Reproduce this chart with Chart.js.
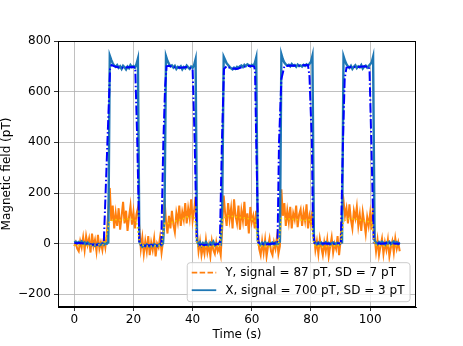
<!DOCTYPE html>
<html>
<head>
<meta charset="utf-8">
<script src="https://cdn.jsdelivr.net/npm/chart.js@4/dist/chart.umd.min.js"></script>
<style>
html,body{margin:0;padding:0;background:#fff;}
#wrap{width:463px;height:346px;}
</style>
</head>
<body>
<div id="wrap"><canvas id="c" width="463" height="346"></canvas></div>
<script>
// ---- data ----
const times = [0,0.5,1,1.5,2,2.5,3,3.5,4,4.5,5,5.5,6,6.5,7,7.5,8,8.5,9,9.5,10,10.5,11,11.5,12,12.5,13,13.5,14,14.5,15,15.5,16,16.5,17,17.5,18,18.5,19,19.5,20,20.5,21,21.5,22,22.5,23,23.5,24,24.5,25,25.5,26,26.5,27,27.5,28,28.5,29,29.5,30,30.5,31,31.5,32,32.5,33,33.5,34,34.5,35,35.5,36,36.5,37,37.5,38,38.5,39,39.5,40,40.5,41,41.5,42,42.5,43,43.5,44,44.5,45,45.5,46,46.5,47,47.5,48,48.5,49,49.5,50,50.5,51,51.5,52,52.5,53,53.5,54,54.5,55,55.5,56,56.5,57,57.5,58,58.5,59,59.5,60,60.5,61,61.5,62,62.5,63,63.5,64,64.5,65,65.5,66,66.5,67,67.5,68,68.5,69,69.5,70,70.5,71,71.5,72,72.5,73,73.5,74,74.5,75,75.5,76,76.5,77,77.5,78,78.5,79,79.5,80,80.5,81,81.5,82,82.5,83,83.5,84,84.5,85,85.5,86,86.5,87,87.5,88,88.5,89,89.5,90,90.5,91,91.5,92,92.5,93,93.5,94,94.5,95,95.5,96,96.5,97,97.5,98,98.5,99,99.5,100,100.5,101,101.5,102,102.5,103,103.5,104,104.5,105,105.5,106,106.5,107,107.5,108,108.5,109,109.5,110];

const xSignal = [
 5,8,2,7,3,9,1,5,-2,4,0,-4,-6,-2,-8,-5,-1,-7,-3,2,-4,3,0,6,
 742,725,712,703,698,705,694,700,690,702,696,688,699,693,705,697,701,695,708,730,
 8,-5,-12,-6,-10,-3,-8,-11,-4,-9,-2,-7,-10,-5,-1,-6,2,
 120,
 740,722,710,700,704,695,702,690,698,694,700,688,697,692,703,696,690,699,694,705,728,
 10,-4,5,-8,2,-5,6,-3,-7,4,-2,8,-6,1,-4,3,-1,150,
 738,725,712,705,698,692,688,695,690,698,694,700,703,697,706,701,708,704,699,706,702,712,735,
 12,2,-5,4,-3,6,-1,3,-6,2,5,-2,4,-4,1,8,
 748,728,715,708,703,706,700,709,702,705,698,707,701,704,699,706,702,708,703,710,718,742,
 10,3,-2,5,0,4,-3,2,6,-1,3,-4,2,5,-2,1,4,-3,2,5,
 740,722,708,700,694,702,690,698,704,693,700,696,705,691,699,703,695,701,708,715,738,
 12,4,-2,6,0,8,3,-4,5,1,7,-2,4,9,2,6,-1,5
];

const ySignal = [
 -10,5,-20,-30,10,-15,25,-25,30,-5,20,-35,40,-10,15,-30,35,-20,5,-25,20,-15,40,130,
 220,90,150,60,120,70,140,55,110,165,80,130,50,105,150,75,125,60,115,140,
 60,-20,25,-40,10,-30,30,-45,5,-25,20,-50,0,-15,25,-35,10,
 175,
 90,40,110,60,130,75,45,120,85,150,70,125,95,160,80,140,100,175,90,130,185,
 40,-30,10,-45,-10,-40,15,-35,-5,-50,10,-25,-40,5,-30,-15,-45,60,
 190,120,70,160,95,140,60,175,110,80,150,55,130,90,165,70,120,40,145,85,110,60,130,
 50,-20,-45,10,-35,15,-50,-10,20,-30,-45,5,-20,25,-40,-10,
 215,110,160,70,130,85,145,60,120,95,150,65,115,135,70,125,90,155,60,110,80,130,
 40,-25,10,-40,20,-15,-45,5,-30,15,-50,-10,25,-35,0,-20,30,-45,10,130,
 170,110,140,80,155,95,60,130,100,145,70,115,50,125,85,40,105,70,120,55,160,
 30,-30,15,-45,-10,20,-40,5,-25,15,-50,-15,10,-35,20,-20,5,-30
];

// smoothed X (blue dash-dot)
const xSmoothT = [0,2,4,6,8,9.5,10.0,11.2,12.1,12.6,14,16,18,20,20.6,21.3,22.0,22.5,24,26,28,29.4,30.1,30.7,31.2,32,34,36,38,40.0,40.7,41.4,42,44,46,48,49.2,49.9,50.6,51.5,53,55,57,59,60.8,61.1,61.5,62.2,63,65,67,68.7,69.2,70.0,71,73,75,77,79,79.5,80.3,80.7,81.2,83,85,87,90.1,90.8,91.4,92,94,96,98,99.6,99.8,100.4,101.2,102,104,106,108,110];
const xSmoothV = [2,3,0,-3,-4,-2,10,400,690,705,698,694,696,697,695,400,5,-5,-8,-6,-7,-2,400,620,700,702,696,694,697,690,400,5,-3,-5,-4,-3,0,400,690,700,692,690,698,702,700,680,400,5,0,-2,0,2,400,650,700,703,702,704,705,660,400,50,2,0,1,-1,2,400,650,695,698,697,700,698,680,400,5,2,0,3,1,0];

// smoothed Y (yellow dotted)
const ySmoothT = [0,3,6,9,10.2,11.2,12,14,16,18,20,21,22,22.5,25,28,29.5,30.5,32,34,36,38,40,40.8,41.5,44,47,49.2,50.2,52,55,58,61,61.5,62.2,65,68,69,70,72,75,78,80,80.7,81.3,84,87,90,91,93,96,99,100.5,101.5,104,107,110];
const ySmoothV = [-5,-8,-6,-4,-3,50,90,95,92,98,95,90,10,-5,-10,-8,-5,80,80,88,95,105,108,100,-5,-12,-10,-8,100,110,105,100,95,60,-8,-12,-10,-5,100,98,95,92,95,20,-8,-12,-10,-5,90,100,95,88,85,-5,-10,-8,-8];

const xTicks = [0,20,40,60,80,100];
const yTicks = [-200,0,200,400,600,800];
const legendLabels = ['Y, signal = 87 pT, SD = 7 pT', 'X, signal = 700 pT, SD = 3 pT'];
const xTitle = 'Time (s)';
const yTitle = 'Magnetic field (pT)';

// ---- chart ----
const FONT = {family: '"DejaVu Sans", sans-serif', size: 12};
const pts = (ts, vs) => ts.map((t, i) => ({x: t, y: vs[i]}));

const frameAndLegend = {
  id: 'frameAndLegend',
  afterDatasetsDraw(chart) {
    const {ctx, chartArea: a} = chart;
    ctx.save();
    ctx.strokeStyle = '#000';
    ctx.lineWidth = 1;
    ctx.strokeRect(Math.round(a.left) + 0.5, Math.round(a.top) + 0.5, Math.round(a.right - a.left) - 1, Math.round(a.bottom - a.top) - 1);
    ctx.restore();
  },
  afterDraw(chart) {
    const {ctx, chartArea: a} = chart;
    ctx.save();
    ctx.font = '12px "DejaVu Sans", sans-serif';
    const tw = Math.max(...legendLabels.map(s => ctx.measureText(s).width));
    const padL = 4.5, handle = 24.5, gap = 9, padR = 5.5;
    const w = padL + handle + gap + tw + padR;
    const h = 39;
    const right = a.right - 6;
    const bottom = a.bottom - 5.3;
    const left = right - w, top = bottom - h;
    const r = 3;
    ctx.beginPath();
    ctx.moveTo(left + r, top);
    ctx.arcTo(right, top, right, bottom, r);
    ctx.arcTo(right, bottom, left, bottom, r);
    ctx.arcTo(left, bottom, left, top, r);
    ctx.arcTo(left, top, right, top, r);
    ctx.closePath();
    ctx.fillStyle = 'rgba(255,255,255,0.8)';
    ctx.fill();
    ctx.strokeStyle = '#cccccc';
    ctx.lineWidth = 1;
    ctx.stroke();
    const rows = [top + 10, top + 27.5];
    const styles = [{c: '#ff7f0e', d: [5.5, 2.4]}, {c: '#1f77b4', d: []}];
    rows.forEach((y, i) => {
      ctx.beginPath();
      ctx.setLineDash(styles[i].d);
      ctx.strokeStyle = styles[i].c;
      ctx.lineWidth = 1.8;
      ctx.moveTo(left + padL, y);
      ctx.lineTo(left + padL + handle, y);
      ctx.stroke();
      ctx.setLineDash([]);
      ctx.fillStyle = '#000';
      ctx.textBaseline = 'middle';
      ctx.textAlign = 'left';
      ctx.fillText(legendLabels[i], left + padL + handle + gap, y + 0.5);
    });
    ctx.restore();
  }
};

new Chart(document.getElementById('c'), {
  type: 'line',
  data: {
    datasets: [
      {label: 'Y smooth', data: pts(ySmoothT, ySmoothV), borderColor: '#f2d000', borderWidth: 1.6, borderDash: [1.5, 2.5], pointRadius: 0, tension: 0, fill: false},
      {label: 'X smooth', data: pts(xSmoothT, xSmoothV), borderColor: '#0000ff', borderWidth: 2, borderDash: [9.6, 2.4, 1.5, 2.4], pointRadius: 0, tension: 0, fill: false},
      {label: 'X', data: pts(times, xSignal), borderColor: '#1f77b4', borderWidth: 2.4, pointRadius: 0, tension: 0, fill: false},
      {label: 'Y', data: pts(times, ySignal), borderColor: '#ff7f0e', borderWidth: 2, pointRadius: 0, tension: 0, fill: false}
    ]
  },
  options: {
    responsive: false,
    animation: false,
    events: [],
    layout: {padding: {left: 0, top: 41, right: 47, bottom: 0}},
    plugins: {legend: {display: false}, tooltip: {enabled: false}},
    scales: {
      x: {
        type: 'linear', min: -5.5, max: 115.5,
        afterBuildTicks: s => { s.ticks = xTicks.map(v => ({value: v})); },
        afterFit: s => { s.height = 39; },
        grid: {color: '#b0b0b0', lineWidth: 0.8, tickColor: '#000', tickLength: 4, drawOnChartArea: true},
        border: {display: true, color: '#000', width: 1},
        ticks: {font: FONT, color: '#000', padding: 2, maxRotation: 0, callback: v => String(v).replace('-', '\u2212')},
        title: {display: true, text: xTitle, font: FONT, color: '#000', padding: {top: 0, bottom: 3.8}}
      },
      y: {
        type: 'linear', min: -250, max: 800,
        afterBuildTicks: s => { s.ticks = yTicks.map(v => ({value: v})); },
        afterFit: s => { s.width = 58; },
        grid: {color: '#b0b0b0', lineWidth: 0.8, tickColor: '#000', tickLength: 4},
        border: {display: true, color: '#000', width: 1},
        ticks: {font: FONT, color: '#000', padding: 3, callback: v => String(v).replace('-', '\u2212')},
        title: {display: true, text: yTitle, font: FONT, color: '#000', padding: {top: 0, bottom: 0}}
      }
    }
  },
  plugins: [frameAndLegend]
});
</script>
</body>
</html>
